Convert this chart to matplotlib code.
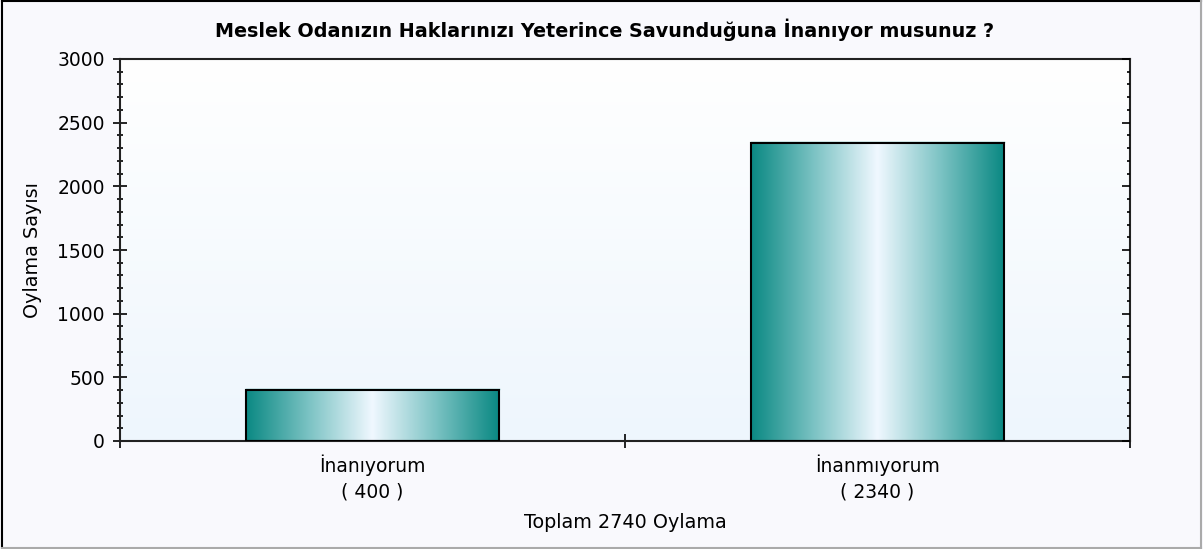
import numpy as np
import matplotlib.pyplot as plt
from matplotlib.colors import LinearSegmentedColormap
from matplotlib.ticker import MultipleLocator, FixedLocator

categories = ['İnanıyorum', 'İnanmıyorum']
votes = [400, 2340]
title = 'Meslek Odanızın Haklarınızı Yeterince Savunduğuna İnanıyor musunuz ?'
ylabel = 'Oylama Sayısı'
xlabel = 'Toplam 2740 Oylama'

plt.rcParams['font.family'] = ['DejaVu Sans']
plt.rcParams['font.size'] = 13.5

W, H = 1203, 549
fig = plt.figure(figsize=(W / 100, H / 100), dpi=100, facecolor='#f9f9fd')
ax = fig.add_axes([120 / W, 1 - 441 / H, 1010 / W, 382 / H])

# frame around the figure
fig.add_artist(plt.Line2D([0.002, 0.002], [0.002, 0.998], color='black', lw=1.5))
fig.add_artist(plt.Line2D([0.002, 0.998], [0.998, 0.998], color='black', lw=1.5))
fig.add_artist(plt.Line2D([0.002, 0.998], [0.002, 0.002], color='#aaaaaa', lw=1.5))
fig.add_artist(plt.Line2D([0.998, 0.998], [0.002, 0.998], color='#aaaaaa', lw=1.5))

# axes background gradient
bg = LinearSegmentedColormap.from_list('bg', ['#eef6fd', '#ffffff'])
ax.imshow(np.linspace(0, 1, 256).reshape(-1, 1), cmap=bg, aspect='auto',
          extent=(-0.5, 1.5, 0, 3000), origin='lower', zorder=0)

# bars with cylindrical gradient
barcm = LinearSegmentedColormap.from_list('bar', ['#0b8983', '#7cc3c4', '#f0f8ff', '#7cc3c4', '#0b8983'])
grad = np.linspace(0, 1, 256).reshape(1, -1)
width = 0.5
for i, v in enumerate(votes):
    bar = ax.bar(i, v, width=width, color='none', edgecolor='black', lw=1.5, zorder=3)[0]
    im = ax.imshow(grad, cmap=barcm, aspect='auto',
                   extent=(i - width / 2, i + width / 2, 0, v), zorder=2)
    im.set_clip_path(bar)
    # thin teal top highlight
    ax.plot([i - width / 2, i + width / 2], [v + 12, v + 12], color='#3aa8a4', lw=1, zorder=2)

ax.set_xlim(-0.5, 1.5)
ax.set_ylim(0, 3000)

for s in ['left', 'right', 'top', 'bottom']:
    ax.spines[s].set_linewidth(1.5)
    ax.spines[s].set_color('#222222')

ax.yaxis.set_major_locator(MultipleLocator(500))
ax.yaxis.set_minor_locator(MultipleLocator(100))
ax.tick_params(axis='y', which='major', direction='inout', length=10, width=1.2, pad=6,
               labelsize=13.5)
ax.tick_params(axis='y', which='minor', direction='inout', length=4.5, width=1.2)

# right side: inward ticks only
ax2 = ax.twinx()
ax2.set_ylim(0, 3000)
ax2.yaxis.set_major_locator(MultipleLocator(500))
ax2.yaxis.set_minor_locator(MultipleLocator(100))
ax2.tick_params(axis='y', which='major', direction='in', length=6, width=1.2, labelright=False)
ax2.tick_params(axis='y', which='minor', direction='in', length=2.5, width=1.2)
for s in ax2.spines.values():
    s.set_visible(False)

ax.xaxis.set_major_locator(FixedLocator([-0.5, 0.5, 1.5]))
ax.tick_params(axis='x', which='major', direction='inout', length=10, width=1.2, labelbottom=False)
for i, (c, v) in enumerate(zip(categories, votes)):
    ax.text(i, -105, c + '\n( ' + str(v) + ' )', ha='center', va='top', fontsize=13.5,
            linespacing=1.45)

fig.text(605 / W, 1 - 30 / H, title, ha='center', va='center', fontsize=13.8, fontweight='bold')
ax.set_ylabel(ylabel, fontsize=13.8)
ax.yaxis.set_label_coords(-87 / 1010, 0.5)
ax.set_xlabel(xlabel, fontsize=13.8)
ax.xaxis.set_label_coords(0.5, -(522 - 441) / 382)
ax.xaxis.label.set_va('center')
ax.yaxis.label.set_va('center')

fig.savefig('out.png', dpi=100, facecolor=fig.get_facecolor())
